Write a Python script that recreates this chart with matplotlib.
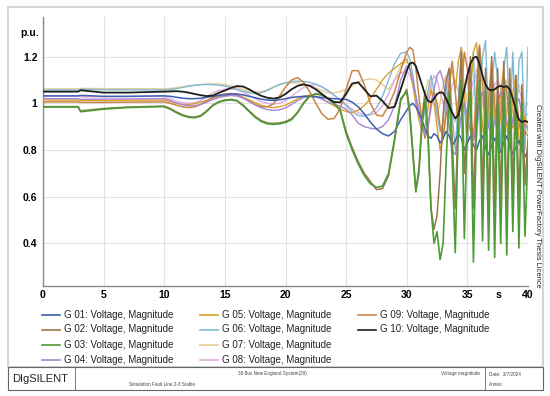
import numpy as np
import matplotlib
matplotlib.use("Agg")
import matplotlib.pyplot as plt
from matplotlib.lines import Line2D
from matplotlib.patches import Rectangle

plt.rcParams['font.family'] = ['Liberation Sans', 'DejaVu Sans']

# time grid (s)
t = np.concatenate([[0, 2.9, 3.1, 5, 7, 9.9],
                    np.arange(10, 30, 0.5),
                    np.arange(30, 40.01, 0.25)])

g01 = ([1.032, 1.032, 1.034, 1.030, 1.030, 1.032]
       + [1.032, 1.030, 1.026, 1.022, 1.020, 1.020, 1.022, 1.026, 1.030, 1.034]
       + [1.037, 1.040, 1.040, 1.036, 1.030, 1.024, 1.018, 1.014, 1.012, 1.015]
       + [1.020, 1.025, 1.028, 1.030, 1.030, 1.028, 1.025, 1.022, 1.020, 1.018]
       + [1.017, 1.005, 0.985, 0.955, 0.920, 0.890, 0.870, 0.860, 0.880, 0.930]
       + [0.97, 0.99, 1.00, 0.985, 0.96, 0.93, 0.89, 0.86, 0.85, 0.87]
       + [0.86, 0.83, 0.85, 0.88, 0.86, 0.82, 0.84, 0.87, 0.85, 0.80]
       + [0.83, 0.86, 0.82, 0.80, 0.84, 0.86, 0.81, 0.78, 0.82, 0.85]
       + [0.82, 0.79, 0.83, 0.86, 0.82, 0.78, 0.81, 0.84, 0.80, 0.77]
       + [0.80])
g02 = ([0.986, 0.986, 0.968, 0.978, 0.984, 0.988]
       + [0.988, 0.978, 0.963, 0.951, 0.943, 0.941, 0.948, 0.968, 0.992, 1.007]
       + [1.014, 1.017, 1.012, 0.993, 0.968, 0.944, 0.926, 0.916, 0.914, 0.916]
       + [0.922, 0.934, 0.963, 1.003, 1.032, 1.042, 1.037, 1.022, 1.002, 0.974]
       + [0.88, 0.81, 0.75, 0.70, 0.665, 0.630, 0.635, 0.69, 0.84, 1.01]
       + [1.06, 0.97, 0.80, 0.63, 0.72, 0.92, 1.05, 0.88, 0.55, 0.46]
       + [0.52, 0.70, 0.95, 1.10, 1.15, 0.85, 0.55, 0.95, 1.22, 0.70]
       + [0.90, 1.20, 0.55, 1.00, 1.24, 0.60, 1.15, 0.55, 1.20, 0.55]
       + [1.15, 0.58, 1.18, 0.55, 1.15, 0.62, 1.12, 0.58, 1.08, 0.65]
       + [0.85])
g03 = ([0.984, 0.984, 0.964, 0.975, 0.982, 0.986]
       + [0.985, 0.975, 0.960, 0.948, 0.940, 0.938, 0.945, 0.965, 0.990, 1.005]
       + [1.012, 1.015, 1.010, 0.990, 0.965, 0.940, 0.922, 0.912, 0.910, 0.912]
       + [0.918, 0.930, 0.960, 1.000, 1.030, 1.040, 1.035, 1.020, 1.000, 0.970]
       + [0.87, 0.80, 0.74, 0.69, 0.655, 0.640, 0.645, 0.70, 0.85, 1.02]
       + [1.05, 0.95, 0.78, 0.62, 0.70, 0.90, 1.02, 0.85, 0.55, 0.40]
       + [0.45, 0.33, 0.40, 0.75, 1.05, 0.75, 0.36, 0.90, 1.10, 0.42]
       + [0.95, 1.05, 0.32, 0.90, 1.10, 0.41, 1.05, 0.37, 1.05, 0.34]
       + [1.00, 0.40, 1.05, 0.35, 1.05, 0.45, 1.05, 0.38, 1.00, 0.43]
       + [0.80])
g04 = ([1.020, 1.020, 1.017, 1.018, 1.019, 1.020]
       + [1.020, 1.012, 1.002, 0.994, 0.990, 0.990, 0.995, 1.005, 1.016, 1.025]
       + [1.031, 1.034, 1.032, 1.022, 1.008, 0.993, 0.981, 0.973, 0.970, 0.972]
       + [0.980, 0.995, 1.012, 1.025, 1.030, 1.028, 1.018, 1.005, 0.995, 0.988]
       + [0.975, 0.950, 0.915, 0.900, 0.893, 0.890, 0.900, 0.930, 0.990, 1.100]
       + [1.16, 1.15, 1.10, 1.03, 0.96, 0.90, 0.87, 0.90, 0.98, 1.06]
       + [1.12, 1.14, 1.10, 1.00, 0.90, 0.80, 0.78, 0.85, 0.95, 1.00]
       + [0.95, 0.88, 0.84, 0.90, 1.00, 1.05, 0.98, 0.90, 0.86, 0.92]
       + [1.00, 1.05, 1.00, 0.92, 0.88, 0.93, 1.00, 1.02, 0.95, 0.90]
       + [0.90])
g05 = ([1.014, 1.014, 1.012, 1.012, 1.013, 1.014]
       + [1.014, 1.008, 1.000, 0.995, 0.995, 0.998, 1.005, 1.013, 1.022, 1.028]
       + [1.032, 1.034, 1.032, 1.025, 1.015, 1.003, 0.992, 0.985, 0.982, 0.985]
       + [0.992, 1.005, 1.020, 1.030, 1.035, 1.030, 1.020, 1.005, 0.990, 0.975]
       + [0.965, 0.960, 0.970, 0.990, 1.020, 1.060, 1.100, 1.130, 1.150, 1.170]
       + [1.19, 1.15, 1.08, 1.00, 0.93, 0.88, 0.90, 0.98, 1.06, 1.00]
       + [0.90, 0.80, 0.85, 0.98, 1.08, 1.15, 1.05, 1.18, 1.24, 1.05]
       + [0.85, 1.05, 1.22, 1.26, 1.10, 0.90, 0.80, 1.00, 1.15, 0.95]
       + [0.85, 1.05, 1.15, 0.90, 0.80, 1.05, 1.12, 0.85, 0.80, 0.95]
       + [0.88])
g06 = ([1.057, 1.057, 1.060, 1.058, 1.058, 1.057]
       + [1.057, 1.059, 1.063, 1.068, 1.073, 1.077, 1.080, 1.081, 1.080, 1.078]
       + [1.074, 1.068, 1.060, 1.052, 1.045, 1.042, 1.045, 1.055, 1.068, 1.080]
       + [1.088, 1.093, 1.095, 1.094, 1.090, 1.082, 1.070, 1.055, 1.035, 1.015]
       + [0.990, 0.965, 0.948, 0.945, 0.955, 0.980, 1.030, 1.100, 1.170, 1.215]
       + [1.22, 1.19, 1.12, 1.03, 0.95, 0.92, 0.96, 1.05, 1.12, 1.05]
       + [0.95, 0.88, 0.92, 1.05, 1.15, 0.95, 0.80, 1.00, 1.24, 1.00]
       + [0.80, 1.05, 1.22, 0.85, 1.00, 1.20, 1.27, 0.90, 1.05, 1.22]
       + [1.10, 0.80, 1.15, 1.24, 0.90, 1.22, 0.85, 1.18, 1.22, 0.80]
       + [1.24])
g07 = ([1.062, 1.062, 1.064, 1.063, 1.063, 1.062]
       + [1.062, 1.064, 1.067, 1.071, 1.075, 1.078, 1.080, 1.082, 1.083, 1.083]
       + [1.080, 1.075, 1.068, 1.060, 1.052, 1.048, 1.050, 1.058, 1.070, 1.080]
       + [1.086, 1.088, 1.087, 1.083, 1.076, 1.066, 1.055, 1.045, 1.045, 1.050]
       + [1.060, 1.075, 1.090, 1.100, 1.105, 1.100, 1.080, 1.060, 1.100, 1.160]
       + [1.18, 1.15, 1.08, 1.00, 0.95, 0.97, 1.03, 1.10, 1.08, 1.00]
       + [0.95, 1.00, 1.08, 1.12, 1.05, 0.95, 0.92, 1.02, 1.12, 1.08]
       + [1.00, 0.95, 1.05, 1.15, 1.10, 1.00, 0.95, 1.05, 1.12, 1.05]
       + [0.98, 1.00, 1.08, 1.10, 1.02, 0.96, 1.00, 1.08, 1.05, 0.98]
       + [1.00])
g08 = ([1.030, 1.030, 1.028, 1.028, 1.029, 1.030]
       + [1.028, 1.020, 1.010, 1.003, 1.000, 1.002, 1.012, 1.028, 1.044, 1.055]
       + [1.060, 1.062, 1.058, 1.048, 1.035, 1.020, 1.008, 1.000, 0.997, 1.000]
       + [1.012, 1.030, 1.050, 1.068, 1.078, 1.080, 1.072, 1.055, 1.035, 1.015]
       + [0.995, 0.975, 0.960, 0.950, 0.950, 0.960, 0.990, 1.040, 1.100, 1.130]
       + [1.14, 1.12, 1.08, 1.03, 0.98, 0.95, 0.97, 1.02, 1.08, 1.12]
       + [1.10, 1.05, 1.00, 0.98, 1.02, 1.08, 1.10, 1.05, 1.00, 0.96]
       + [0.98, 1.04, 1.10, 1.12, 1.08, 1.00, 0.95, 0.97, 1.03, 1.08]
       + [1.10, 1.07, 1.02, 0.97, 0.95, 0.99, 1.04, 1.06, 1.02, 0.96]
       + [0.95])
g09 = ([1.006, 1.006, 1.004, 1.004, 1.005, 1.006]
       + [1.006, 1.000, 0.992, 0.985, 0.982, 0.985, 0.995, 1.010, 1.025, 1.035]
       + [1.040, 1.042, 1.038, 1.025, 1.010, 0.995, 0.985, 0.985, 0.998, 1.030]
       + [1.070, 1.100, 1.110, 1.090, 1.050, 1.000, 0.955, 0.932, 0.935, 0.975]
       + [1.060, 1.140, 1.140, 1.080, 1.000, 0.950, 0.945, 0.990, 1.050, 1.140]
       + [1.22, 1.24, 1.23, 1.15, 1.03, 0.92, 0.85, 0.90, 1.00, 1.05]
       + [1.00, 0.90, 0.85, 0.95, 1.10, 1.18, 1.05, 0.90, 1.05, 1.22]
       + [1.15, 0.95, 0.85, 1.05, 1.25, 1.10, 0.88, 1.00, 1.18, 1.00]
       + [0.85, 0.95, 1.12, 1.05, 0.88, 0.90, 1.05, 0.92, 0.85, 0.88]
       + [0.86])
g10 = ([1.050, 1.050, 1.056, 1.046, 1.046, 1.050]
       + [1.050, 1.051, 1.052, 1.050, 1.046, 1.040, 1.035, 1.031, 1.033, 1.045]
       + [1.055, 1.066, 1.074, 1.072, 1.060, 1.045, 1.032, 1.024, 1.020, 1.025]
       + [1.040, 1.060, 1.075, 1.081, 1.075, 1.060, 1.040, 1.020, 1.006, 1.004]
       + [1.040, 1.085, 1.090, 1.060, 1.030, 1.033, 1.010, 0.980, 0.985, 1.060]
       + [1.14, 1.17, 1.175, 1.16, 1.12, 1.08, 1.04, 1.01, 1.005, 1.02]
       + [1.04, 1.047, 1.045, 1.02, 0.99, 0.96, 0.935, 0.95, 1.00, 1.06]
       + [1.12, 1.17, 1.195, 1.20, 1.17, 1.12, 1.08, 1.06, 1.055, 1.06]
       + [1.07, 1.075, 1.07, 1.073, 1.06, 1.02, 0.97, 0.93, 0.92, 0.925]
       + [0.92])

series = [g01, g02, g03, g04, g05, g06, g07, g08, g09, g10]
labels = ["G 01: Voltage, Magnitude", "G 02: Voltage, Magnitude",
          "G 03: Voltage, Magnitude", "G 04: Voltage, Magnitude",
          "G 05: Voltage, Magnitude", "G 06: Voltage, Magnitude",
          "G 07: Voltage, Magnitude", "G 08: Voltage, Magnitude",
          "G 09: Voltage, Magnitude", "G 10: Voltage, Magnitude"]
colors = ['#3f5fb5', '#9c7650', '#4d9b36', '#a585d6', '#dba22e',
          '#7fbad2', '#e4cd94', '#e3a9e0', '#c98548', '#1e1e1e']
zorders = [5, 6, 7, 4, 3, 2, 1, 1.5, 3.5, 8]
widths = [1.1, 1.1, 1.2, 1.0, 1.0, 1.0, 1.0, 1.0, 1.1, 1.3]

xticks = [0, 5, 10, 15, 20, 25, 30, 35, 40]
yticks = [0.4, 0.6, 0.8, 1.0, 1.2]
ytick_labels = ["0.4", "0.6", "0.8", "1", "1.2"]

W, H = 550, 396
fig = plt.figure(figsize=(W / 100, H / 100), dpi=100)

def fx(x):
    return x / W

def fy(y):
    return 1 - y / H

ax = fig.add_axes([fx(43), fy(286), fx(528) - fx(43), fy(17) - fy(286)])
for s, c, z, lw in zip(series, colors, zorders, widths):
    ax.plot(t, s, color=c, lw=lw, zorder=z)

ax.set_xlim(0, 40)
ax.set_ylim(0.217, 1.37)
ax.set_xticks(xticks)
ax.set_yticks(yticks)
ax.set_xticklabels([str(v) for v in xticks], fontsize=7.5, fontweight='bold')
ax.set_yticklabels(ytick_labels, fontsize=7.5, fontweight='bold')
ax.tick_params(axis='x', length=0, pad=3)
ax.tick_params(axis='y', length=0, pad=4)
ax.grid(True, color='#e2e2e2', lw=0.8, zorder=0)
ax.set_axisbelow(True)
for side in ['top', 'right']:
    ax.spines[side].set_visible(False)
ax.spines['left'].set_color('#8a8a8a')
ax.spines['bottom'].set_color('#8a8a8a')
ax.spines['left'].set_linewidth(1.0)
ax.spines['bottom'].set_linewidth(1.0)

# unit labels
fig.text(fx(39), fy(33), "p.u.", ha='right', va='center', fontsize=7.5,
         fontweight='bold')
fig.text(fx(498), fy(294.5), "s", ha='center', va='center', fontsize=7.5,
         fontweight='bold')

# outer frame
fig.add_artist(Rectangle((fx(8), fy(367)), fx(543) - fx(8), fy(7) - fy(367),
                         transform=fig.transFigure, fill=False,
                         edgecolor='#d4d4d4', lw=1.5))

# right side note
fig.text(fx(537), fy(196), "Created with DIgSILENT PowerFactory Thesis Licence",
         rotation=-90, ha='center', va='center', fontsize=5.4, color='#222222')

# legend
col_x = [42, 200, 358]
row_y = [314.5, 329.5, 344.8, 360]
for i, (lab, c) in enumerate(zip(labels, colors)):
    col, row = i // 4, i % 4
    x0 = col_x[col]
    y0 = row_y[row]
    fig.add_artist(Line2D([fx(x0), fx(x0 + 18)], [fy(y0), fy(y0)],
                          transform=fig.transFigure, color=c, lw=1.2))
    fig.text(fx(x0 + 22), fy(y0), lab, ha='left', va='center',
             fontsize=7, color='#222222')

# footer box
fig.add_artist(Rectangle((fx(8), fy(390)), fx(543) - fx(8), fy(367) - fy(390),
                         transform=fig.transFigure, fill=False,
                         edgecolor='#666666', lw=0.8))
for xd in [75, 485]:
    fig.add_artist(Line2D([fx(xd), fx(xd)], [fy(367), fy(390)],
                          transform=fig.transFigure, color='#666666', lw=0.6))
fig.text(fx(40), fy(379), "DIgSILENT", ha='center', va='center', fontsize=8,
         color='#222222')
fig.text(fx(272), fy(374), "39 Bus New England System(29)", ha='center',
         va='center', fontsize=3.3, color='#444444')
fig.text(fx(162), fy(384), "Simulation Fault Line 2-3 Stable", ha='center',
         va='center', fontsize=3.3, color='#444444')
fig.text(fx(460), fy(374), "Voltage magnitude", ha='center', va='center',
         fontsize=3.3, color='#444444')
fig.text(fx(489), fy(374), "Date:  3/7/2024", ha='left', va='center',
         fontsize=3.3, color='#444444')
fig.text(fx(489), fy(384), "Annex:", ha='left', va='center',
         fontsize=3.3, color='#444444')

fig.savefig("out.png", dpi=100)
